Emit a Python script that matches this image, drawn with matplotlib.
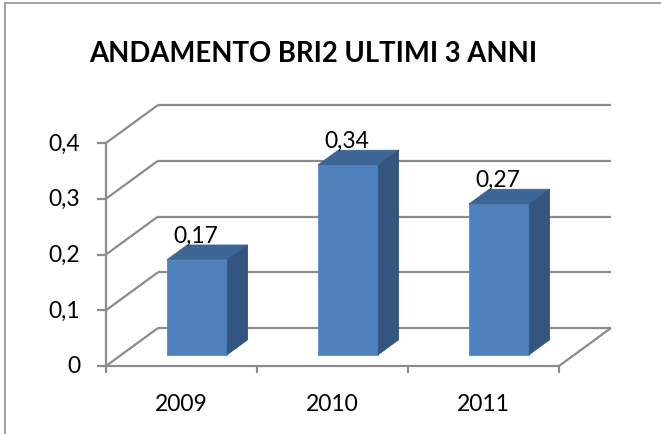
import matplotlib

matplotlib.use("Agg")
from matplotlib import pyplot as plt
from matplotlib.patches import Polygon
from matplotlib.lines import Line2D

# data
years = ['2009', '2010', '2011']
values = [0.17, 0.34, 0.27]
labels = ['0,17', '0,34', '0,27']
y_ticks = [0, 0.1, 0.2, 0.3, 0.4]
y_tick_labels = ['0', '0,1', '0,2', '0,3', '0,4']
title = 'ANDAMENTO BRI2 ULTIMI 3 ANNI'

plt.rcParams['font.family'] = ['Lato', 'DejaVu Sans']

W, H, DPI = 661, 435, 100
fig = plt.figure(figsize=(W / DPI, H / DPI), dpi=DPI)

# front plane of the 3d box, in pixels
left, right, bottom, top = 106, 559, 367, 144
ax = fig.add_axes([left / W, 1 - bottom / H, (right - left) / W, (bottom - top) / H])
ax.set_xlim(-0.5, 2.5)
ax.set_ylim(0, 0.4)
ax.axis('off')

# pixel -> data scale, for the depth offsets
px_x = (right - left) / 3.0
px_y = (bottom - top) / 0.4
depth_x, depth_y = 52 / px_x, 38 / px_y     # full depth of the floor
grid_c = '#8c8c8c'
lw = 1.6
fs = 16.5

def line(xs, ys, **kw):
    ax.add_line(Line2D(xs, ys, color=grid_c, lw=lw, clip_on=False,
                       solid_capstyle='butt', **kw))

# back wall gridlines + left side wall diagonals
for t in y_ticks:
    line([-0.5 + depth_x, 2.5 + depth_x], [t + depth_y, t + depth_y])
    line([-0.5, -0.5 + depth_x], [t, t + depth_y])
# floor edges
line([-0.5, 2.5], [0, 0])
line([2.5, 2.5 + depth_x], [0, depth_y])
# y axis and ticks
line([-0.5, -0.5], [0, 0.4])
tick_x = 9 / px_x
for t, lab in zip(y_ticks, y_tick_labels):
    line([-0.5 - tick_x, -0.5], [t, t])
    ax.text(-0.5 - 26 / px_x, t, lab, ha='right', va='center', fontsize=fs)
# x ticks
for k in range(4):
    line([-0.5 + k, -0.5 + k], [0, -7 / px_y])
for i, yr in enumerate(years):
    ax.text(i, -38 / px_y, yr, ha='center', va='center', fontsize=fs)

# bars
bw = 0.4
b0 = 0.3          # bar front position along depth
bd = 0.39         # bar depth as fraction of floor depth
front_c, top_c, side_c = '#4F81BD', '#3D6697', '#33557F'
for i, v in enumerate(values):
    ox, oy = b0 * depth_x, b0 * depth_y
    dx, dy = bd * depth_x, bd * depth_y
    x0, x1 = i - bw / 2 + ox, i + bw / 2 + ox
    y0, y1 = oy, v + oy
    ax.add_patch(Polygon([(x0, y0), (x1, y0), (x1, y1), (x0, y1)],
                         facecolor=front_c, edgecolor='#5a8ac6', lw=0.6, clip_on=False, zorder=3))
    ax.add_patch(Polygon([(x0, y1), (x1, y1), (x1 + dx, y1 + dy), (x0 + dx, y1 + dy)],
                         facecolor=top_c, edgecolor=top_c, lw=0.6, clip_on=False, zorder=3))
    ax.add_patch(Polygon([(x1, y0), (x1 + dx, y0 + dy), (x1 + dx, y1 + dy), (x1, y1)],
                         facecolor=side_c, edgecolor=side_c, lw=0.6, clip_on=False, zorder=3))
    ax.annotate(labels[i], xy=(i + ox, y1), xytext=(-1, 18), textcoords='offset pixels',
                ha='center', va='baseline', fontsize=fs, zorder=4)

fig.text(313 / W, 1 - 54 / H, title, ha='center', va='center',
         fontsize=19.8, fontweight='bold')

# chart frame (left and top edges only, the rest is cropped)
fig.add_artist(Line2D([4.5 / W, 4.5 / W], [0, 1 - 3.5 / H], color='#a0a0a0', lw=1.4,
                      transform=fig.transFigure))
fig.add_artist(Line2D([4.5 / W, 1], [1 - 3.5 / H, 1 - 3.5 / H], color='#a0a0a0', lw=1.4,
                      transform=fig.transFigure))

fig.savefig('out.png', dpi=DPI)
